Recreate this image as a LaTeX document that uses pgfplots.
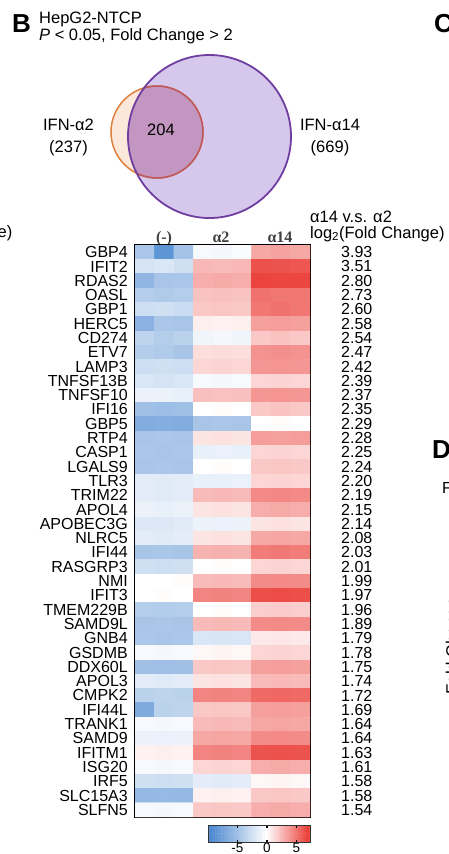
\documentclass[border=0pt]{standalone}
\usepackage{fontspec}
\setmainfont{Liberation Sans}
\newfontfamily\serifb{Liberation Serif}
\usepackage{pgfplots}
\pgfplotsset{compat=1.18}
\usepackage{pgfplotstable}
\definecolor{orfill}{RGB}{251,232,218}
\definecolor{orline}{RGB}{222,128,62}
\definecolor{orin}{RGB}{188,88,96}
\definecolor{pufill}{RGB}{214,200,236}
\definecolor{puline}{RGB}{112,62,160}
\definecolor{ovfill}{RGB}{194,150,192}
\newcommand{\fs}[1]{\fontsize{#1}{#1}\selectfont}
\pgfplotsset{colormap={hm}{rgb255(0cm)=(66,130,206); rgb255(5.78cm)=(255,255,255); rgb255(10cm)=(234,56,50)}}

% heatmap: column x (3 replicates per group), row y (gene index), value c (log2 expression)
\pgfplotstableread[row sep=\\]{
x y c\\
0 0 -4.5\\ 1 0 -8.5\\ 2 0 -4.8\\ 3 0 -0.4\\ 4 0 -0.6\\ 5 0 -0.3\\ 6 0 3.2\\ 7 0 3.4\\ 8 0 3.2\\
0 1 -2.2\\ 1 1 -2.0\\ 2 1 -2.5\\ 3 1 2.6\\ 4 1 2.5\\ 5 1 2.6\\ 6 1 6.4\\ 7 1 6.3\\ 8 1 6.2\\
0 2 -5.8\\ 1 2 -4.6\\ 2 2 -4.5\\ 3 2 3.0\\ 4 2 3.1\\ 5 2 3.0\\ 6 2 6.9\\ 7 2 6.8\\ 8 2 6.8\\
0 3 -4.0\\ 1 3 -4.2\\ 2 3 -4.0\\ 3 3 2.2\\ 4 3 2.3\\ 5 3 2.2\\ 6 3 5.2\\ 7 3 5.0\\ 8 3 5.0\\
0 4 -2.6\\ 1 4 -2.5\\ 2 4 -2.8\\ 3 4 2.0\\ 4 4 2.1\\ 5 4 2.0\\ 6 4 5.0\\ 7 4 5.2\\ 8 4 5.0\\
0 5 -6.2\\ 1 5 -4.5\\ 2 5 -4.6\\ 3 5 0.6\\ 4 5 0.5\\ 5 5 0.6\\ 6 5 3.5\\ 7 5 3.6\\ 8 5 3.5\\
0 6 -3.5\\ 1 6 -4.0\\ 2 6 -3.6\\ 3 6 -0.8\\ 4 6 -0.6\\ 5 6 -0.8\\ 6 6 2.0\\ 7 6 2.2\\ 8 6 2.0\\
0 7 -4.0\\ 1 7 -4.2\\ 2 7 -4.6\\ 3 7 1.2\\ 4 7 1.3\\ 5 7 1.2\\ 6 7 4.0\\ 7 7 4.1\\ 8 7 4.0\\
0 8 -2.6\\ 1 8 -2.5\\ 2 8 -2.6\\ 3 8 1.5\\ 4 8 1.6\\ 5 8 1.5\\ 6 8 3.8\\ 7 8 3.9\\ 8 8 3.8\\
0 9 -2.0\\ 1 9 -2.2\\ 2 9 -2.0\\ 3 9 -0.5\\ 4 9 -0.6\\ 5 9 -0.4\\ 6 9 1.5\\ 7 9 1.6\\ 8 9 1.5\\
0 10 -1.0\\ 1 10 -1.0\\ 2 10 -1.2\\ 3 10 2.3\\ 4 10 2.2\\ 5 10 2.3\\ 6 10 3.8\\ 7 10 3.9\\ 8 10 3.8\\
0 11 -5.0\\ 1 11 -5.2\\ 2 11 -5.0\\ 3 11 0.0\\ 4 11 0.1\\ 5 11 0.0\\ 6 11 2.0\\ 7 11 2.2\\ 8 11 2.0\\
0 12 -6.6\\ 1 12 -6.5\\ 2 12 -6.6\\ 3 12 -4.6\\ 4 12 -4.5\\ 5 12 -4.6\\ 6 12 0.0\\ 7 12 0.1\\ 8 12 0.0\\
0 13 -4.6\\ 1 13 -4.5\\ 2 13 -4.6\\ 3 13 1.0\\ 4 13 1.1\\ 5 13 1.0\\ 6 13 3.6\\ 7 13 3.5\\ 8 13 3.6\\
0 14 -4.5\\ 1 14 -4.6\\ 2 14 -4.5\\ 3 14 -1.2\\ 4 14 -1.1\\ 5 14 -1.2\\ 6 14 1.5\\ 7 14 1.6\\ 8 14 1.5\\
0 15 -4.6\\ 1 15 -4.5\\ 2 15 -4.6\\ 3 15 0.0\\ 4 15 0.1\\ 5 15 0.0\\ 6 15 2.0\\ 7 15 2.1\\ 8 15 2.0\\
0 16 -1.5\\ 1 16 -1.6\\ 2 16 -1.5\\ 3 16 -1.2\\ 4 16 -1.2\\ 5 16 -1.1\\ 6 16 1.5\\ 7 16 1.6\\ 8 16 1.5\\
0 17 -1.5\\ 1 17 -1.6\\ 2 17 -1.5\\ 3 17 2.5\\ 4 17 2.6\\ 5 17 2.5\\ 6 17 4.3\\ 7 17 4.4\\ 8 17 4.3\\
0 18 -1.0\\ 1 18 -1.2\\ 2 18 -1.0\\ 3 18 1.0\\ 4 18 1.1\\ 5 18 1.0\\ 6 18 3.0\\ 7 18 3.1\\ 8 18 3.0\\
0 19 -1.8\\ 1 19 -1.8\\ 2 19 -1.6\\ 3 19 -1.0\\ 4 19 -1.1\\ 5 19 -1.0\\ 6 19 1.0\\ 7 19 1.1\\ 8 19 1.0\\
0 20 -1.5\\ 1 20 -1.6\\ 2 20 -1.5\\ 3 20 1.0\\ 4 20 1.1\\ 5 20 1.0\\ 6 20 3.2\\ 7 20 3.3\\ 8 20 3.2\\
0 21 -4.6\\ 1 21 -4.5\\ 2 21 -4.6\\ 3 21 2.8\\ 4 21 2.9\\ 5 21 2.8\\ 6 21 4.8\\ 7 21 4.9\\ 8 21 4.8\\
0 22 -2.5\\ 1 22 -2.6\\ 2 22 -2.5\\ 3 22 0.0\\ 4 22 0.1\\ 5 22 0.0\\ 6 22 1.5\\ 7 22 1.6\\ 8 22 1.5\\
0 23 0.0\\ 1 23 0.0\\ 2 23 0.1\\ 3 23 2.5\\ 4 23 2.6\\ 5 23 2.5\\ 6 23 4.2\\ 7 23 4.3\\ 8 23 4.2\\
0 24 0.0\\ 1 24 0.1\\ 2 24 0.0\\ 3 24 4.5\\ 4 24 4.6\\ 5 24 4.5\\ 6 24 6.5\\ 7 24 6.6\\ 8 24 6.5\\
0 25 -4.0\\ 1 25 -4.1\\ 2 25 -4.0\\ 3 25 0.0\\ 4 25 0.1\\ 5 25 0.0\\ 6 25 1.8\\ 7 25 1.9\\ 8 25 1.8\\
0 26 -4.6\\ 1 26 -4.5\\ 2 26 -4.6\\ 3 26 2.5\\ 4 26 2.6\\ 5 26 2.5\\ 6 26 4.2\\ 7 26 4.3\\ 8 26 4.2\\
0 27 -4.5\\ 1 27 -4.6\\ 2 27 -4.5\\ 3 27 -2.0\\ 4 27 -2.1\\ 5 27 -2.0\\ 6 27 0.8\\ 7 27 0.9\\ 8 27 0.8\\
0 28 -0.5\\ 1 28 -0.6\\ 2 28 -0.5\\ 3 28 0.3\\ 4 28 0.4\\ 5 28 0.3\\ 6 28 1.5\\ 7 28 1.6\\ 8 28 1.5\\
0 29 -5.0\\ 1 29 -5.1\\ 2 29 -5.0\\ 3 29 2.0\\ 4 29 2.1\\ 5 29 2.0\\ 6 29 3.5\\ 7 29 3.6\\ 8 29 3.5\\
0 30 -1.5\\ 1 30 -1.6\\ 2 30 -1.5\\ 3 30 1.0\\ 4 30 1.1\\ 5 30 1.0\\ 6 30 2.5\\ 7 30 2.6\\ 8 30 2.5\\
0 31 -3.6\\ 1 31 -3.5\\ 2 31 -3.6\\ 3 31 4.5\\ 4 31 4.6\\ 5 31 4.5\\ 6 31 5.5\\ 7 31 5.6\\ 8 31 5.5\\
0 32 -6.8\\ 1 32 -3.6\\ 2 32 -3.5\\ 3 32 2.0\\ 4 32 2.1\\ 5 32 2.0\\ 6 32 3.5\\ 7 32 3.6\\ 8 32 3.5\\
0 33 -0.5\\ 1 33 -0.6\\ 2 33 -0.5\\ 3 33 2.5\\ 4 33 2.6\\ 5 33 2.5\\ 6 33 3.2\\ 7 33 3.3\\ 8 33 3.2\\
0 34 -1.0\\ 1 34 -1.1\\ 2 34 -1.0\\ 3 34 3.2\\ 4 34 3.3\\ 5 34 3.2\\ 6 34 4.2\\ 7 34 4.3\\ 8 34 4.2\\
0 35 0.5\\ 1 35 0.6\\ 2 35 0.5\\ 3 35 4.5\\ 4 35 4.6\\ 5 35 4.5\\ 6 35 6.3\\ 7 35 6.4\\ 8 35 6.3\\
0 36 -0.5\\ 1 36 -0.6\\ 2 36 -0.5\\ 3 36 1.5\\ 4 36 1.6\\ 5 36 1.5\\ 6 36 3.0\\ 7 36 3.1\\ 8 36 3.0\\
0 37 -2.5\\ 1 37 -2.6\\ 2 37 -2.5\\ 3 37 -1.5\\ 4 37 -1.6\\ 5 37 -1.5\\ 6 37 0.3\\ 7 37 0.4\\ 8 37 0.3\\
0 38 -5.6\\ 1 38 -5.5\\ 2 38 -5.6\\ 3 38 0.5\\ 4 38 0.6\\ 5 38 0.5\\ 6 38 2.0\\ 7 38 2.1\\ 8 38 2.0\\
0 39 -0.5\\ 1 39 -0.6\\ 2 39 -0.5\\ 3 39 2.0\\ 4 39 2.1\\ 5 39 2.0\\ 6 39 3.0\\ 7 39 3.1\\ 8 39 3.0\\
}\hmdata

\begin{document}
\begin{tikzpicture}
\clip (0pt,0pt) rectangle (449pt,-854pt);
% canvas axis in pixel units (y downward)
\begin{axis}[at={(0pt,0pt)}, anchor=north west, width=449pt, height=854pt,
  scale only axis, xmin=0, xmax=449, ymin=0, ymax=854, y dir=reverse,
  hide axis, clip=false]
\addplot[draw=none] coordinates {(0,0)};
% Venn diagram
\fill[orfill] (axis cs:157,132) circle[radius=46pt];
\fill[pufill] (axis cs:209.5,136.5) circle[radius=81.5pt];
\begin{scope}
\clip (axis cs:157,132) circle[radius=46pt];
\fill[ovfill] (axis cs:209.5,136.5) circle[radius=81.5pt];
\end{scope}
\draw[orline, line width=1.5pt] (axis cs:157,132) circle[radius=46pt];
\begin{scope}
\clip (axis cs:209.5,136.5) circle[radius=81.5pt];
\draw[orin, line width=1.5pt] (axis cs:157,132) circle[radius=46pt];
\end{scope}
\draw[puline, line width=1.8pt] (axis cs:209.5,136.5) circle[radius=81.5pt];
% texts
\node[anchor=base west, inner sep=0pt, font=\fs{26}\bfseries] at (axis cs:12,32) {B};
\node[anchor=base west, inner sep=0pt, font=\fs{16.5}] at (axis cs:39,23) {HepG2-NTCP};
\node[anchor=base west, inner sep=0pt, font=\fs{16.5}] at (axis cs:39,40) {\textit{P} < 0.05, Fold Change > 2};
\node[anchor=base, inner sep=0pt, font=\fs{16.5}] at (axis cs:68.5,130) {IFN-α2};
\node[anchor=base, inner sep=0pt, font=\fs{16.5}] at (axis cs:68.5,152) {(237)};
\node[anchor=base, inner sep=0pt, font=\fs{16.5}] at (axis cs:161,135) {204};
\node[anchor=base, inner sep=0pt, font=\fs{16.5}] at (axis cs:330,130) {IFN-α14};
\node[anchor=base, inner sep=0pt, font=\fs{16.5}] at (axis cs:330,152) {(669)};
\node[anchor=base west, inner sep=0pt, font=\fs{16.5}] at (axis cs:310,222) {α14 v.s. α2};
\node[anchor=base west, inner sep=0pt, font=\fs{16.5}] at (axis cs:310,238) {log\textsubscript{2}(Fold Change)};
\node[anchor=base east, inner sep=0pt, font=\fs{16.5}] at (axis cs:12.5,237) {Change)};
% column headers
\node[anchor=base, inner sep=0pt, font=\serifb\fs{16}\bfseries, text=black!75] at (axis cs:164,242) {(-)};
\node[anchor=base, inner sep=0pt, font=\serifb\fs{16}\bfseries, text=black!75] at (axis cs:221,242) {α2};
\node[anchor=base, inner sep=0pt, font=\serifb\fs{16}\bfseries, text=black!75] at (axis cs:280,242) {α14};
% fragments of neighbouring panels
\node[anchor=base west, inner sep=0pt, font=\fs{26}\bfseries] at (axis cs:434,32) {C};
\node[anchor=base west, inner sep=0pt, font=\fs{26}\bfseries] at (axis cs:432,458) {D};
\node[anchor=base west, inner sep=0pt, font=\fs{16}] at (axis cs:442,493) {Fo};
\node[anchor=base west, inner sep=0pt, rotate=90, font=\fs{17}] at (axis cs:458,695) {Fold Change};
\end{axis}

% heatmap
\begin{axis}[at={(135pt,-245pt)}, anchor=north west, width=175pt, height=572pt,
  scale only axis, enlargelimits=false,
  xmin=-0.5, xmax=8.5, ymin=-0.5, ymax=39.5, y dir=reverse,
  xtick=\empty, ytick={0,...,39}, major tick length=0pt,
  yticklabels={GBP4,IFIT2,RDAS2,OASL,GBP1,HERC5,CD274,ETV7,LAMP3,TNFSF13B,TNFSF10,IFI16,GBP5,RTP4,CASP1,LGALS9,TLR3,TRIM22,APOL4,APOBEC3G,NLRC5,IFI44,RASGRP3,NMI,IFIT3,TMEM229B,SAMD9L,GNB4,GSDMB,DDX60L,APOL3,CMPK2,IFI44L,TRANK1,SAMD9,IFITM1,ISG20,IRF5,SLC15A3,SLFN5},
  yticklabel style={font=\fs{16}, inner sep=0pt, xshift=-7pt},
  axis line style={line width=2pt, black},
  colormap name=hm,
  point meta min=-10, point meta max=7.3,
]
\addplot[matrix plot*, mesh/cols=9, point meta=explicit] table[x=x, y=y, meta=c] {\hmdata};
\end{axis}

% fold change values on the right
\begin{axis}[at={(135pt,-245pt)}, anchor=north west, width=175pt, height=572pt,
  scale only axis, xmin=0, xmax=1, ymin=-0.5, ymax=39.5, y dir=reverse,
  hide x axis, axis y line*=right, y axis line style={draw=none},
  ytick={0,...,39}, major tick length=0pt,
  yticklabels={3.93,3.51,2.80,2.73,2.60,2.58,2.54,2.47,2.42,2.39,2.37,2.35,2.29,2.28,2.25,2.24,2.20,2.19,2.15,2.14,2.08,2.03,2.01,1.99,1.97,1.96,1.89,1.79,1.78,1.75,1.74,1.72,1.69,1.64,1.64,1.63,1.61,1.58,1.58,1.54},
  yticklabel style={font=\fs{16}, anchor=west, inner sep=0pt, xshift=31pt},
]
\addplot[draw=none] coordinates {(0,0)};
\end{axis}

% colour key
\begin{axis}[at={(208pt,-825pt)}, anchor=north west, width=102pt, height=17pt,
  scale only axis, enlargelimits=false,
  xmin=-10, xmax=7.3, ymin=0, ymax=1,
  colormap name=hm, point meta min=-10, point meta max=7.3,
  xtick={-5,0,5}, ytick=\empty,
  xtick align=inside, xtick pos=both,
  major tick length=2.5pt,
  tick style={line width=1.6pt, black},
  axis line style={line width=0.9pt, black!80},
  xticklabel style={font=\fs{13.5}, inner sep=1pt},
  /pgf/number format/assume math mode=true,
  axis on top,
]
\addplot[matrix plot*, mesh/cols=36, point meta=x] coordinates {
(-10,0) (-9.5,0) (-9,0) (-8.5,0) (-8,0) (-7.5,0) (-7,0) (-6.5,0) (-6,0) (-5.5,0) (-5,0) (-4.5,0)
(-4,0) (-3.5,0) (-3,0) (-2.5,0) (-2,0) (-1.5,0) (-1,0) (-0.5,0) (0,0) (0.5,0) (1,0) (1.5,0)
(2,0) (2.5,0) (3,0) (3.5,0) (4,0) (4.5,0) (5,0) (5.5,0) (6,0) (6.5,0) (7,0) (7.5,0)
(-10,1) (-9.5,1) (-9,1) (-8.5,1) (-8,1) (-7.5,1) (-7,1) (-6.5,1) (-6,1) (-5.5,1) (-5,1) (-4.5,1)
(-4,1) (-3.5,1) (-3,1) (-2.5,1) (-2,1) (-1.5,1) (-1,1) (-0.5,1) (0,1) (0.5,1) (1,1) (1.5,1)
(2,1) (2.5,1) (3,1) (3.5,1) (4,1) (4.5,1) (5,1) (5.5,1) (6,1) (6.5,1) (7,1) (7.5,1)
};
\end{axis}
\end{tikzpicture}
\end{document}
